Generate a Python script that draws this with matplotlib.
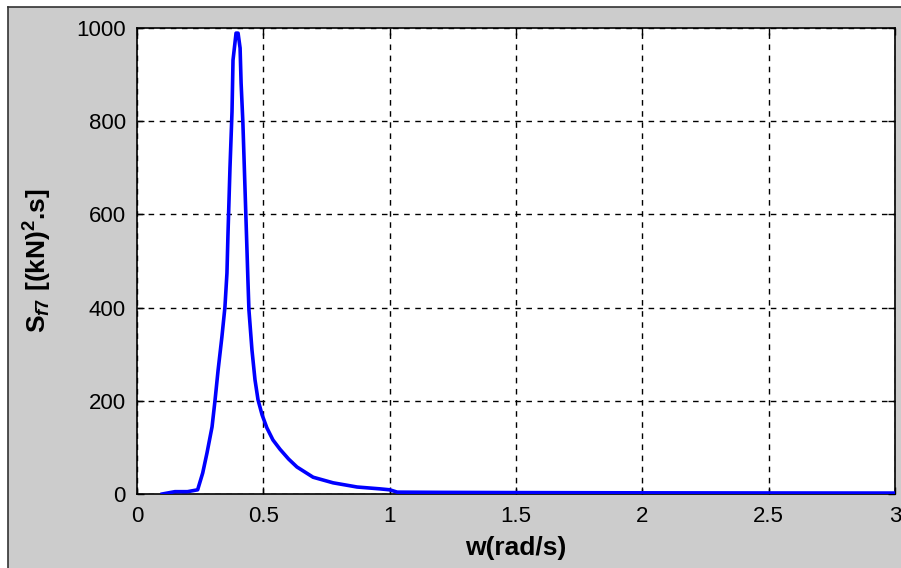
import matplotlib
matplotlib.use("Agg")
import matplotlib.pyplot as plt
from matplotlib.patches import Rectangle
from matplotlib.lines import Line2D

# ================= DATA ===================
w = [0.10, 0.15, 0.20, 0.24, 0.26, 0.277, 0.297, 0.309, 0.321, 0.336, 0.348,
     0.356, 0.360, 0.368, 0.376, 0.380, 0.392, 0.400, 0.408, 0.412, 0.419,
     0.427, 0.435, 0.439, 0.443, 0.455, 0.467, 0.479, 0.495, 0.514, 0.538,
     0.566, 0.600, 0.633, 0.697, 0.776, 0.871, 0.962, 1.00, 1.03, 1.20,
     1.50, 2.00, 2.50, 3.00]
S = [0, 5, 5, 9, 45, 88, 144, 202, 266, 337, 401,
     474, 556, 700, 820, 931, 989, 989, 957, 882, 798,
     663, 528, 459, 395, 309, 245, 202, 170, 142, 116,
     96, 75, 58, 36, 24, 15, 11, 9, 4, 3.5,
     3, 2.5, 2.2, 2]

xticks = [0, 0.5, 1, 1.5, 2, 2.5, 3]
xticklabels = ["0", "0.5", "1", "1.5", "2", "2.5", "3"]
yticks = [0, 200, 400, 600, 800, 1000]

# ================= STYLE ===================
plt.rcParams["font.family"] = ["Liberation Sans", "DejaVu Sans"]
plt.rcParams["mathtext.fontset"] = "custom"
plt.rcParams["mathtext.rm"] = "Liberation Sans:bold"
plt.rcParams["mathtext.it"] = "Liberation Sans:bold:italic"
plt.rcParams["mathtext.bf"] = "Liberation Sans:bold"

bg = "#cccccc"
fig = plt.figure(figsize=(9.01, 5.68), dpi=100, facecolor="white")

# window-like gray panel with dark edge on top and left
fig.add_artist(Rectangle((8 / 901, 0), 1, 1 - 7 / 568, transform=fig.transFigure,
                         facecolor=bg, edgecolor="none", zorder=-10))
fig.add_artist(Line2D([8 / 901, 1], [1 - 7 / 568, 1 - 7 / 568], transform=fig.transFigure,
                      color="#333333", lw=1.2))
fig.add_artist(Line2D([8 / 901, 8 / 901], [0, 1 - 7 / 568], transform=fig.transFigure,
                      color="#333333", lw=1.2))

ax = fig.add_axes([137 / 901, 1 - 494 / 568, (895 - 137) / 901, (494 - 28) / 568])
ax.set_facecolor("white")

# ================= PLOT ===================
ax.plot(w, S, color="#0000ff", lw=2.6, zorder=3)

ax.set_xlim(0, 3)
ax.set_ylim(0, 1000)
ax.set_xticks(xticks)
ax.set_xticklabels(xticklabels)
ax.set_yticks(yticks)
ax.tick_params(direction="in", length=5, width=1, labelsize=16, colors="black",
               top=True, right=True)
ax.tick_params(axis="x", pad=9)
ax.tick_params(axis="y", pad=8)
ax.grid(True, color="black", linestyle=(0, (4, 4)), linewidth=1)
for sp in ax.spines.values():
    sp.set_linewidth(1.2)
    sp.set_color("black")

ax.set_xlabel("w(rad/s)", fontsize=19, fontweight="bold", labelpad=6)
ax.set_ylabel(r"S$_{f7}$ [(kN)$^{2}$.s]", fontsize=19, fontweight="bold", labelpad=16)

fig.savefig("out.png", dpi=100, facecolor=fig.get_facecolor())
